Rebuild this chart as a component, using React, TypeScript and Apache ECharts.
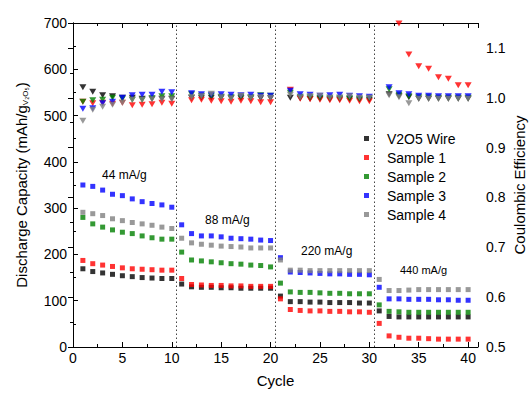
import React, { useEffect, useRef } from "react";
import * as echarts from "echarts";

const cycles: number[] = Array.from({ length: 40 }, (_, i) => i + 1);
const seriesNames = ["V2O5 Wire", "Sample 1", "Sample 2", "Sample 3", "Sample 4"];
const seriesColors = ["#000000", "#ff0000", "#008000", "#0000ff", "#808080"];

// Discharge capacity (mAh/g)
const capWire = [169, 163, 160, 157, 154, 152, 150, 149, 148, 148,
  136, 130, 129, 129, 128, 128, 127, 127, 127, 127,
  110, 98, 98, 97, 97, 96, 96, 96, 95, 95,
  78, 66, 65, 65, 65, 65, 65, 65, 65, 65];
const capS1 = [187, 180, 177, 174, 171, 169, 168, 167, 166, 166,
  148, 135, 134, 133, 133, 132, 132, 131, 131, 131,
  104, 81, 79, 78, 78, 77, 77, 76, 76, 75,
  51, 24, 21, 19, 19, 18, 17, 17, 17, 17];
const capS2 = [280, 266, 259, 253, 248, 245, 240, 236, 233, 233,
  205, 188, 186, 184, 182, 180, 179, 177, 176, 173,
  138, 119, 118, 118, 117, 116, 116, 115, 115, 115,
  91, 77, 76, 75, 75, 75, 75, 75, 75, 75];
const capS3 = [350, 347, 339, 330, 327, 320, 314, 310, 307, 302,
  264, 245, 240, 240, 238, 235, 234, 233, 231, 230,
  193, 162, 161, 160, 159, 158, 158, 157, 157, 156,
  129, 104, 104, 103, 103, 103, 102, 102, 101, 101];
const capS4 = [291, 288, 284, 277, 273, 269, 266, 263, 259, 256,
  235, 225, 222, 220, 218, 217, 216, 214, 214, 214,
  188, 166, 166, 165, 165, 165, 165, 165, 165, 165,
  146, 122, 122, 123, 124, 124, 124, 124, 124, 124];

// Coulombic efficiency
const ceWire = [1.021, 1.012, 1.005, 1.003, 1.0, 1.0, 0.998, 0.998, 0.998, 0.998,
  null, 1.0, 1.0, 1.0, 1.0, 0.999, 0.999, 0.999, 0.999, 0.999,
  null, 1.0, 0.999, 0.998, 0.998, 0.997, 0.997, 0.997, 0.996, 0.996,
  null, 1.007, 1.003, 1.001, 0.998, 0.998, 0.998, 0.998, 0.998, 0.998];
const ceS1 = [0.992, 0.989, 0.99, 0.988, 0.99, 0.985, 0.986, 0.987, 0.99, 0.988,
  null, 0.995, 0.996, 0.994, 0.993, 0.992, 0.994, 0.993, 0.991, 0.991,
  null, 1.016, 0.998, 0.997, 0.996, 0.995, 0.995, 0.994, 0.993, 0.993,
  null, null, 1.149, 1.087, 1.063, 1.058, 1.041, 1.038, 1.025, 1.025];
const ceS2 = [0.992, 0.995, 0.996, 1.0, 0.998, 0.996, 0.996, 0.999, 1.003, 1.003,
  null, 1.007, 1.004, 1.004, 1.002, 1.001, 1.002, 1.001, 1.005, 1.004,
  null, 1.01, 1.002, 1.001, 1.0, 1.0, 1.0, 0.999, 0.998, 0.999,
  null, 1.017, 1.006, 1.003, 1.001, 1.001, 1.0, 1.0, 1.0, 1.0];
const ceS3 = [0.978, 0.979, 0.989, 0.992, 1.0, 1.005, 1.006, 1.006, 1.012, 1.011,
  null, 1.009, 1.007, 1.006, 1.007, 1.006, 1.005, 1.006, 1.004, 1.004,
  null, 1.014, 1.007, 1.006, 1.004, 1.005, 1.006, 1.004, 1.003, 1.002,
  null, 1.021, 1.009, 1.007, 1.004, 1.004, 1.003, 1.003, 1.003, 1.003];
const ceS4 = [0.954, 0.976, 0.982, 0.986, 0.99, 0.996, 0.996, 0.997, 0.997, 0.997,
  null, 1.001, 1.003, 1.008, 1.001, 0.999, 1.004, 1.0, 1.001, 1.0,
  null, 1.006, 1.001, 1.003, 1.004, 1.0, 1.0, 1.003, 1.0, 1.0,
  null, 1.005, 1.001, 0.989, 0.998, 0.998, 0.998, 0.998, 0.998, 0.998];

const capacities = [capWire, capS1, capS2, capS3, capS4];
const efficiencies = [ceWire, ceS1, ceS2, ceS3, ceS4];
const rateBoundaries = [10.5, 20.5, 30.5];
const rateLabels = ["44 mA/g", "88 mA/g", "220 mA/g", "440 mA/g"];

const FONT = "'Liberation Sans', Arial, sans-serif";

export default function App() {
  const ref = useRef<HTMLDivElement>(null);
  useEffect(() => {
    if (!ref.current) return;
    const chart = echarts.init(ref.current, undefined, { renderer: "svg" });
    const capSeries = capacities.map((vals, i) => ({
      name: seriesNames[i],
      type: "scatter",
      yAxisIndex: 0,
      symbol: "rect",
      symbolSize: 5,
      itemStyle: { color: seriesColors[i] },
      data: cycles.map((c, j) => [c, vals[j]]),
      z: 3,
      ...(i === 0
        ? {
            markLine: {
              silent: true,
              symbol: "none",
              label: { show: false },
              lineStyle: { color: "#444", type: [1.5, 2.5], width: 1 },
              data: rateBoundaries.map((b) => ({ xAxis: b })),
            },
          }
        : {}),
    }));
    const ceSeries = efficiencies.map((vals, i) => ({
      name: seriesNames[i] + " CE",
      type: "scatter",
      yAxisIndex: 1,
      symbol: "triangle",
      symbolRotate: 180,
      symbolSize: [7, 6],
      itemStyle: { color: seriesColors[i] },
      data: cycles.map((c, j) => [c, vals[j]]),
      z: 2,
    }));
    const tickStyle = { color: "#000", width: 1 };
    const labelStyle = { color: "#000", fontSize: 14, fontFamily: FONT };
    chart.setOption({
      animation: false,
      grid: { left: 73, right: 51, top: 23, bottom: 50, containLabel: false, outerBoundsMode: "none" },
      legend: {
        data: seriesNames,
        orient: "vertical",
        left: 359,
        top: 126,
        icon: "rect",
        itemWidth: 5,
        itemHeight: 5,
        itemGap: 4,
        textStyle: { fontSize: 14, fontFamily: FONT, color: "#000", padding: [0, 0, 0, 13], lineHeight: 15 },
        selectedMode: false,
      },
      xAxis: [
        {
          type: "value",
          min: 0,
          max: 41,
          interval: 5,
          position: "bottom",
          name: "Cycle",
          nameLocation: "middle",
          nameGap: 26,
          nameMoveOverlap: false,
          nameTextStyle: { fontSize: 15, fontFamily: FONT, color: "#000" },
          axisLine: { show: true, lineStyle: tickStyle },
          axisTick: { show: true, inside: true, length: 5, lineStyle: tickStyle },
          minorTick: { show: true, splitNumber: 2, length: 3, lineStyle: tickStyle },
          axisLabel: {
            ...labelStyle,
            margin: 4,
            formatter: (v: number) => (v % 5 === 0 ? String(v) : ""),
          },
          splitLine: { show: false },
        },
        {
          type: "value",
          min: 0,
          max: 41,
          interval: 5,
          position: "top",
          axisLine: { show: true, lineStyle: tickStyle },
          axisTick: { show: true, inside: true, length: 5, lineStyle: tickStyle },
          minorTick: { show: true, splitNumber: 2, length: 3, lineStyle: tickStyle },
          axisLabel: { show: false },
          splitLine: { show: false },
        },
      ],
      yAxis: [
        {
          type: "value",
          min: 0,
          max: 700,
          interval: 100,
          position: "left",
          name: "Discharge Capacity (mAh/g{sub|V₂O₅})",
          nameLocation: "middle",
          nameRotate: 90,
          nameGap: 44,
          nameMoveOverlap: false,
          nameTextStyle: {
            fontSize: 15,
            fontFamily: FONT,
            color: "#000",
            rich: {
              sub: { fontSize: 8, fontFamily: FONT, color: "#000", verticalAlign: "bottom", padding: [8, 0, 0, 0] },
            },
          },
          axisLine: { show: true, lineStyle: tickStyle },
          axisTick: { show: true, inside: true, length: 5, lineStyle: tickStyle },
          minorTick: { show: true, splitNumber: 2, length: 3, lineStyle: tickStyle },
          axisLabel: { ...labelStyle, margin: 6 },
          splitLine: { show: false },
        },
        {
          type: "value",
          min: 0.5,
          max: 1.15,
          interval: 0.1,
          position: "right",
          name: "Coulombic Efficiency",
          nameLocation: "middle",
          nameRotate: 90,
          nameGap: 33,
          nameMoveOverlap: false,
          nameTextStyle: { fontSize: 15, lineHeight: 16, fontFamily: FONT, color: "#000" },
          axisLine: { show: true, lineStyle: tickStyle },
          axisTick: { show: true, inside: true, length: 5, lineStyle: tickStyle },
          minorTick: { show: true, splitNumber: 2, length: 3, lineStyle: tickStyle },
          axisLabel: {
            ...labelStyle,
            margin: 8,
            formatter: (v: number) =>
              Math.abs(v * 10 - Math.round(v * 10)) < 1e-6 ? v.toFixed(1) : "",
          },
          splitLine: { show: false },
        },
      ],
      graphic: [
        { type: "text", x: 102, y: 175, style: { text: rateLabels[0], font: `12px ${FONT}`, fill: "#000", textVerticalAlign: "middle" } },
        { type: "text", x: 205, y: 220, style: { text: rateLabels[1], font: `12px ${FONT}`, fill: "#000", textVerticalAlign: "middle" } },
        { type: "text", x: 301, y: 251, style: { text: rateLabels[2], font: `12px ${FONT}`, fill: "#000", textVerticalAlign: "middle" } },
        { type: "text", x: 400, y: 270, style: { text: rateLabels[3], font: `11px ${FONT}`, fill: "#000", textVerticalAlign: "middle" } },
      ],
      series: [...ceSeries, ...capSeries],
    });
    return () => chart.dispose();
  }, []);
  return (
    <div
      ref={ref}
      style={{ position: "absolute", left: 0, top: 0, width: 529, height: 397, background: "#fff" }}
    />
  );
}
